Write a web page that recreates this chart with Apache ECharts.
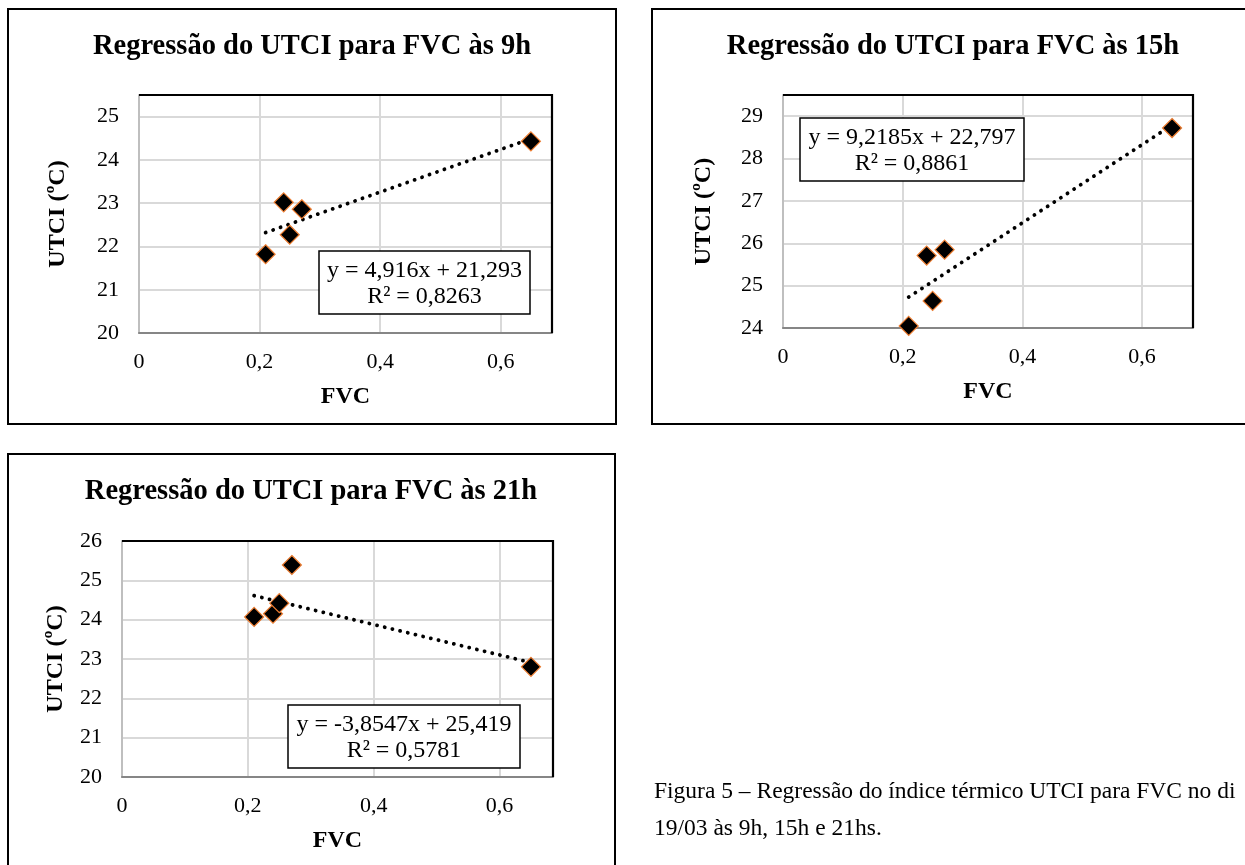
<!DOCTYPE html>
<html>
<head>
<meta charset="utf-8">
<script src="https://cdn.jsdelivr.net/npm/echarts@6/dist/echarts.min.js"></script>
<style>
html,body{margin:0;padding:0;background:#fff;}
#c{width:1245px;height:865px;}
</style>
</head>
<body>
<div id="c"></div>
<script>
// ---- data ----
var fvc = [0.21, 0.24, 0.25, 0.27, 0.65];
var utci9h = [21.82, 23.02, 22.27, 22.86, 24.43];
var utci15h = [24.05, 25.71, 24.64, 25.85, 28.72];
var utci21h = [24.07, 24.15, 24.42, 25.39, 22.80];
var trendX = [0.21, 0.65];
var trend9hY = [22.32, 24.49];
var trend15hY = [24.73, 28.79];
var trend21hY = [24.61, 22.91];
var titles = ['Regressão do UTCI para FVC às 9h', 'Regressão do UTCI para FVC às 15h', 'Regressão do UTCI para FVC às 21h'];
var equations = [
  ['y = 4,916x + 21,293', 'R² = 0,8263'],
  ['y = 9,2185x + 22,797', 'R² = 0,8861'],
  ['y = -3,8547x + 25,419', 'R² = 0,5781']
];
var yRanges = [[20, 25.5], [24, 29.5], [20, 26]];
var xTicks = [0, 0.2, 0.4, 0.6];
var xAxisName = 'FVC';
var yAxisName = 'UTCI (ºC)';
var caption = ['Figura 5 – Regressão do índice térmico UTCI para FVC no di', '19/03 às 9h, 15h e 21hs.'];

var F = "'Liberation Serif','Times New Roman',serif";

function pairs(xs, ys) { return xs.map(function (x, i) { return [x, ys[i]]; }); }

var grids = [
  {left: 139, top: 95, width: 413, height: 238},
  {left: 783, top: 95, width: 410, height: 233},
  {left: 122, top: 541, width: 431, height: 236}
];
var nameGapsY = [69, 67, 54];

function xAx(gi) {
  return {
    type: 'value', gridIndex: gi, min: 0, max: 0.685, interval: 0.2,
    axisLine: {show: true, onZero: false, lineStyle: {color: '#868686', width: 2}},
    axisTick: {show: false},
    axisLabel: {showMaxLabel: false, margin: 18, fontSize: 22, color: '#000', fontFamily: F,
      formatter: function (v) { return String(Math.round(v * 10) / 10).replace('.', ','); }},
    splitLine: {show: true, lineStyle: {color: '#d9d9d9', width: 2}},
    name: xAxisName, nameLocation: 'middle', nameGap: 52,
    nameTextStyle: {fontWeight: 'bold', fontSize: 24, color: '#000', fontFamily: F}
  };
}
function yAx(gi) {
  return {
    type: 'value', gridIndex: gi, min: yRanges[gi][0], max: yRanges[gi][1], interval: 1,
    axisLine: {show: true, onZero: false, lineStyle: {color: '#bfbfbf', width: 2}},
    axisTick: {show: false},
    axisLabel: {showMaxLabel: yRanges[gi][1] % 1 === 0, margin: 20, fontSize: 22, color: '#000', fontFamily: F},
    splitLine: {show: true, lineStyle: {color: '#d9d9d9', width: 2}},
    name: yAxisName, nameLocation: 'middle', nameGap: nameGapsY[gi],
    nameTextStyle: {fontWeight: 'bold', fontSize: 24, color: '#000', fontFamily: F}
  };
}

var series = [];
var ys = [utci9h, utci15h, utci21h];
var ts = [trend9hY, trend15hY, trend21hY];
for (var i = 0; i < 3; i++) {
  series.push({
    type: 'line', xAxisIndex: i, yAxisIndex: i, data: pairs(trendX, ts[i]),
    showSymbol: false, symbol: 'none', silent: true, z: 2,
    lineStyle: {color: '#000', width: 3.8, type: [0.1, 7.8], cap: 'round'}
  });
  series.push({
    type: 'scatter', xAxisIndex: i, yAxisIndex: i, data: pairs(fvc, ys[i]),
    symbol: 'diamond', symbolSize: 19, z: 3,
    itemStyle: {color: '#000', opacity: 1, borderColor: '#ED7D31', borderWidth: 1.2}
  });
}

var frames = [
  {x: 8, y: 9, w: 608, h: 415, tx: 312, ty: 47},
  {x: 652, y: 9, w: 610, h: 415, tx: 953, ty: 47},
  {x: 8, y: 454, w: 607, h: 430, tx: 311, ty: 492}
];
var eqBoxes = [
  {x: 319, y: 251, w: 211, h: 63},
  {x: 800, y: 118, w: 224, h: 63},
  {x: 288, y: 705, w: 232, h: 63}
];

var graphic = [];
frames.forEach(function (f, i) {
  graphic.push({type: 'rect', shape: {x: f.x, y: f.y, width: f.w, height: f.h},
    style: {fill: 'none', stroke: '#000', lineWidth: 2}, z: 0, silent: true});
  graphic.push({type: 'text', x: f.tx, y: f.ty, z: 10,
    style: {text: titles[i], font: 'bold 28.5px ' + F, fill: '#000', align: 'center', verticalAlign: 'middle'}});
});
// black top and right edges of each plot area
grids.forEach(function (g) {
  graphic.push({type: 'polyline', z: 100, silent: true,
    shape: {points: [[g.left, g.top], [g.left + g.width, g.top], [g.left + g.width, g.top + g.height]]},
    style: {stroke: '#000', lineWidth: 2.2, fill: null}});
});
eqBoxes.forEach(function (b, i) {
  graphic.push({type: 'rect', shape: {x: b.x, y: b.y, width: b.w, height: b.h}, z: 10,
    style: {fill: '#fff', stroke: '#000', lineWidth: 1.5}});
  graphic.push({type: 'text', x: b.x + b.w / 2, y: b.y + 20, z: 11,
    style: {text: equations[i][0], font: '24px ' + F, fill: '#000', align: 'center', verticalAlign: 'middle'}});
  graphic.push({type: 'text', x: b.x + b.w / 2, y: b.y + 46, z: 11,
    style: {text: equations[i][1], font: '24px ' + F, fill: '#000', align: 'center', verticalAlign: 'middle'}});
});
graphic.push({type: 'text', x: 654, y: 792, z: 10,
  style: {text: caption[0], font: '23.5px ' + F, fill: '#000', align: 'left', verticalAlign: 'middle'}});
graphic.push({type: 'text', x: 654, y: 829, z: 10,
  style: {text: caption[1], font: '23.5px ' + F, fill: '#000', align: 'left', verticalAlign: 'middle'}});

var chart = echarts.init(document.getElementById('c'), null, {renderer: 'canvas'});
chart.setOption({
  animation: false,
  backgroundColor: '#fff',
  grid: grids.map(function (g) {
    return {left: g.left, top: g.top, width: g.width, height: g.height, show: false};
  }),
  xAxis: [xAx(0), xAx(1), xAx(2)],
  yAxis: [yAx(0), yAx(1), yAx(2)],
  series: series,
  graphic: graphic
});
</script>
</body>
</html>
